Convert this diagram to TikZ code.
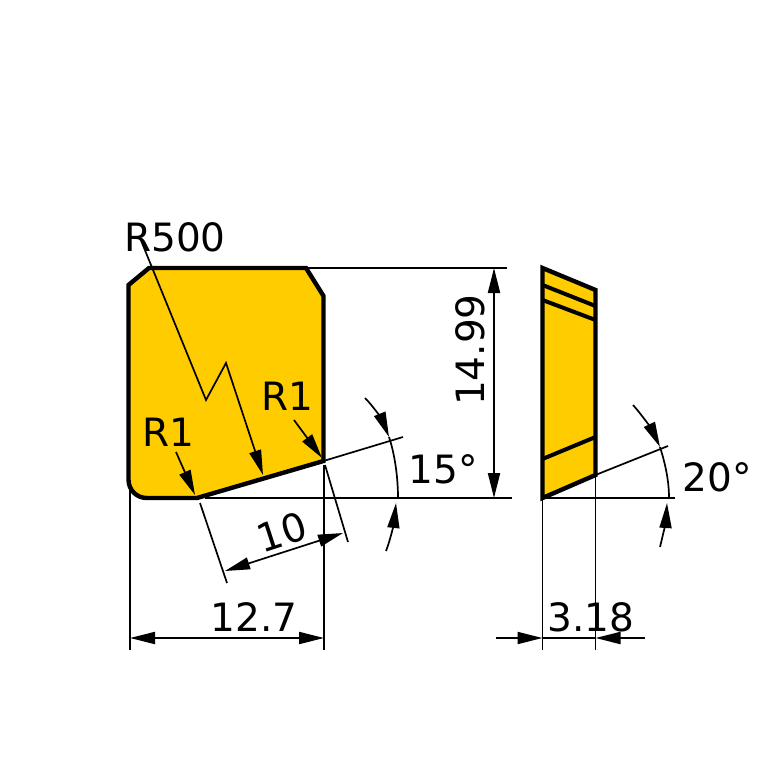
\documentclass[tikz,border=0pt]{standalone}
\usepackage{fontspec}
\setmainfont{DejaVu Sans}
\usetikzlibrary{arrows.meta}
\definecolor{insert}{HTML}{FFCC00}
\tikzset{
  x=1pt,y=-1pt,
  body/.style={fill=insert,draw=black,line width=4.4pt,line join=miter},
  edge/.style={draw=black,line width=4pt},
  thin/.style={draw=black,line width=1.9pt},
  leader/.style={draw=black,line width=1.7pt},
  tip/.style={-{Triangle[length=25pt,width=12pt]}},
  tips/.style={{Triangle[length=25pt,width=12pt]}-{Triangle[length=25pt,width=12pt]}},
  lab/.style={inner sep=0pt,font=\fontsize{39}{39}\selectfont,text=black},
}
\begin{document}
\begin{tikzpicture}
\useasboundingbox (0,0) rectangle (767,767);
\fill[white] (0,0) rectangle (767,767);
% anchors
\coordinate (tl1) at (128.5,285);
\coordinate (tl2) at (149,268);
\coordinate (tr1) at (306,268);
\coordinate (tr2) at (323.5,296);
\coordinate (br) at (323.5,461);
\coordinate (bm) at (197,498);
\coordinate (s1) at (542.5,268);
\coordinate (s2) at (595.5,290);
\coordinate (s3) at (595.5,475);
\coordinate (s4) at (542.5,498);
% front view
\draw[body] (tl1) -- (tl2) -- (tr1) -- (tr2) -- (br) -- (bm) -- (147,498)
  .. controls (136.5,498) and (128.5,490) .. (128.5,479.5) -- cycle;
% side view
\draw[body] (s1) -- (s2) -- (s3) -- (s4) -- cycle;
\coordinate (a1) at (542.5,285); \coordinate (a2) at (595.5,306);
\coordinate (b1) at (542.5,300); \coordinate (b2) at (595.5,320);
\coordinate (c1) at (542.5,459); \coordinate (c2) at (595.5,437);
\draw[edge] (a1) -- (a2);
\draw[edge] (b1) -- (b2);
\draw[edge] (c1) -- (c2);
% extension lines
\coordinate (e1) at (507,268);
\coordinate (e2) at (512,498);
\coordinate (e3) at (205,498);
\coordinate (e4) at (403,437);
\coordinate (e5) at (675,498);
\coordinate (e6) at (668,446);
\draw[thin] (tr1) -- (e1);
\draw[thin] (e3) -- (e2);
\draw[leader] (br) -- (e4);
\draw[thin] (s4) -- (e5);
\draw[leader] (s3) -- (e6);
\coordinate (v1) at (130,482); \coordinate (v1b) at (130,650);
\coordinate (v2) at (324,465); \coordinate (v2b) at (324,650);
\coordinate (v3b) at (542.5,650); \coordinate (v4b) at (595.5,650);
\draw[thin] (v1) -- (v1b);
\draw[thin] (v2) -- (v2b);
\draw[thin] (s4) -- (v3b);
\draw[thin] (s3) -- (v4b);
\coordinate (x1) at (200,503); \coordinate (x1b) at (227,583);
\coordinate (x2) at (325,465); \coordinate (x2b) at (348,542);
\draw[leader] (x1) -- (x1b);
\draw[leader] (x2) -- (x2b);
% dimensions
\coordinate (d1) at (130,638); \coordinate (d2) at (324,638);
\draw[thin,tips] (d1) -- (d2);
\coordinate (h1) at (494,268); \coordinate (h2) at (494,498);
\draw[thin,tips] (h1) -- (h2);
\coordinate (t1) at (225,571); \coordinate (t2) at (343,533);
\draw[leader,tips] (t1) -- (t2);
\coordinate (w0) at (496,638); \coordinate (w1) at (542.5,638);
\coordinate (w2) at (645,638); \coordinate (w3) at (595.5,638);
\draw[thin,tip] (w0) -- (w1);
\draw[thin,tip] (w2) -- (w3);
\draw[thin] (w1) -- (w3);
% angle 15
\coordinate (p0) at (365,398); \coordinate (p1) at (389,437);
\coordinate (p2) at (398,498); \coordinate (p3) at (386,551); \coordinate (p4) at (396,503);
\draw[leader,tip] (p0) .. controls (375,408) and (383,422) .. (p1);
\draw[leader] (p1) .. controls (395,455) and (398,478) .. (p2);
\draw[leader,tip] (p3) .. controls (391,538) and (394,522) .. (p4);
% angle 20
\coordinate (q0) at (633,405); \coordinate (q1) at (660,447);
\coordinate (q2) at (669,498); \coordinate (q3) at (660,547); \coordinate (q4) at (667,503);
\draw[leader,tip] (q0) .. controls (642,415) and (652,430) .. (q1);
\draw[leader] (q1) .. controls (665,463) and (669,480) .. (q2);
\draw[leader,tip] (q3) .. controls (663,535) and (666,520) .. (q4);
% leaders
\coordinate (r0) at (140,238); \coordinate (r1) at (206,400);
\coordinate (r2) at (226,363); \coordinate (r3) at (263,475);
\draw[leader,tip] (r0) -- (r1) -- (r2) -- (r3);
\coordinate (u0) at (176,452); \coordinate (u1) at (195,495);
\draw[leader,tip] (u0) -- (u1);
\coordinate (o0) at (294,420); \coordinate (o1) at (322,458);
\draw[leader,tip] (o0) -- (o1);
% labels
\node[lab] (lR500) at (175,237) {R500};
\node[lab] (lR1a) at (168,432) {R1};
\node[lab] (lR1b) at (287,396) {R1};
\node[lab] (l127) at (254,617) {12.7};
\node[lab,rotate=18] (l10) at (282,532) {10};
\node[lab] (l15) at (443,469) {15°};
\node[lab] (l20) at (717,477) {20°};
\node[lab,rotate=90] (l1499) at (470,350) {14.99};
\node[lab] (l318) at (591,617) {3.18};
\end{tikzpicture}
\end{document}
